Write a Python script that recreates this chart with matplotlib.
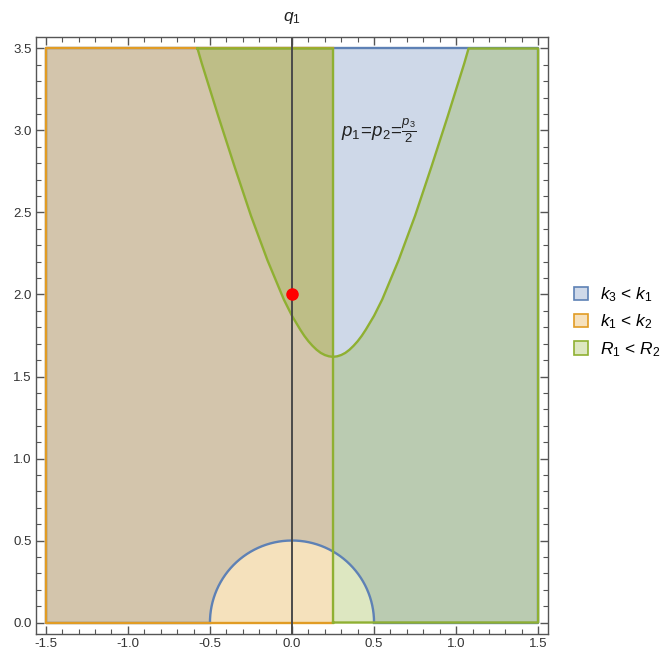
import numpy as np
import matplotlib
matplotlib.use('Agg')
import matplotlib.pyplot as plt
from matplotlib.patches import Patch, Polygon
from matplotlib.ticker import MultipleLocator, FormatStrFormatter

plt.rcParams['font.family'] = ['Liberation Sans', 'DejaVu Sans']
plt.rcParams['mathtext.fontset'] = 'custom'
plt.rcParams['mathtext.rm'] = 'Liberation Sans'
plt.rcParams['mathtext.it'] = 'Liberation Sans:italic'

# ---- data ----
x_min, x_max = -1.5, 1.5
y_min, y_max = 0.0, 3.5
split_x = 0.25          # vertical boundary
circle_r = 0.5          # semicircle radius (centred at origin)
curve_x = [-0.576, -0.55, -0.45, -0.35, -0.25, -0.15, -0.05, 0.0, 0.05, 0.075, 0.10, 0.125,
           0.15, 0.175, 0.20, 0.225,
           0.25,
           0.275, 0.30, 0.325, 0.35, 0.375, 0.40, 0.425, 0.45, 0.50, 0.55, 0.65, 0.75, 0.85,
           0.95, 1.05, 1.076]
curve_y = [3.50, 3.41, 3.09, 2.78, 2.48, 2.21, 1.97, 1.87, 1.786, 1.748, 1.715, 1.687,
           1.663, 1.644, 1.631, 1.623,
           1.620,
           1.623, 1.631, 1.644, 1.663, 1.687, 1.715, 1.748, 1.786, 1.87, 1.97, 2.21, 2.48, 2.78,
           3.09, 3.41, 3.50]
point_x, point_y = 0.0, 2.0
legend_labels = [r'$k_3$ < $k_1$', r'$k_1$ < $k_2$', r'$R_1$ < $R_2$']
x_ticks = [-1.5, -1.0, -0.5, 0.0, 0.5, 1.0, 1.5]
y_ticks = [0.0, 0.5, 1.0, 1.5, 2.0, 2.5, 3.0, 3.5]

blue = (0.368, 0.507, 0.710)
orange = (0.881, 0.611, 0.142)
green = (0.560, 0.692, 0.195)
alpha = 0.3
lw = 1.7

fig = plt.figure(figsize=(6.66, 6.51), dpi=100)
ax = fig.add_axes([36/666, 17/651, (548-36)/666, (634-37)/651])
pad_x = 0.02 * (x_max - x_min)
pad_y = 0.02 * (y_max - y_min)
ax.set_xlim(x_min - pad_x, x_max + pad_x)
ax.set_ylim(y_min - pad_y, y_max + pad_y)

# blue region: box outside the semicircle
xs = np.linspace(x_min, x_max, 1201)
lower = np.sqrt(np.clip(circle_r**2 - xs**2, 0, None))
ax.fill_between(xs, lower, y_max, color=blue, alpha=alpha, lw=0)

# orange region: left of split
ax.fill_between([x_min, split_x], y_min, y_max, color=orange, alpha=alpha, lw=0)

# green region
iv = curve_x.index(split_x)
left_pts = list(zip(curve_x[:iv + 1], curve_y[:iv + 1])) + [(split_x, y_max)]
right_curve = list(zip(curve_x[iv:], curve_y[iv:]))
right_pts = [(split_x, y_min), (x_max, y_min), (x_max, y_max)] + right_curve[::-1]
for pts in (left_pts, right_pts):
    ax.add_patch(Polygon(pts, closed=True, facecolor=green, alpha=alpha, lw=0))

# boundaries: blue
th = np.linspace(0, np.pi, 300)
ax.plot(circle_r*np.cos(th), circle_r*np.sin(th), color=blue, lw=lw)
ax.plot([-circle_r, x_min, x_min, x_max, x_max, circle_r],
        [y_min, y_min, y_max, y_max, y_min, y_min], color=blue, lw=lw)
# orange
ax.plot([split_x, x_min, x_min, split_x], [y_min, y_min, y_max, y_max], color=orange, lw=lw)
# green
for pts in (left_pts, right_pts):
    px, py = zip(*(pts + [pts[0]]))
    ax.plot(px, py, color=green, lw=lw, solid_joinstyle='round')

ax.axvline(0, color='#4a4a4a', lw=1.4)
ax.plot([point_x], [point_y], 'o', color='#ff0000', ms=8, zorder=5)

ax.text(0.3, 3.0, r'$p_1\!=\!p_2\!=\!\frac{p_3}{2}$', fontsize=13.5, color='#222222',
        ha='left', va='center')
ax.annotate(r'$q_1$', xy=(0, 1), xycoords=('data', 'axes fraction'),
            xytext=(0, 14), textcoords='offset points', ha='center', va='center',
            fontsize=12.5, color='#222222')

ax.set_xticks(x_ticks)
ax.set_yticks(y_ticks)
ax.xaxis.set_major_formatter(FormatStrFormatter('%.1f'))
ax.yaxis.set_major_formatter(FormatStrFormatter('%.1f'))
ax.xaxis.set_minor_locator(MultipleLocator(0.1))
ax.yaxis.set_minor_locator(MultipleLocator(0.1))
ax.tick_params(which='both', direction='in', top=True, right=True, color='#555555')
ax.tick_params(which='major', length=6, width=1, labelsize=9.5, labelcolor='#333333', pad=3)
ax.tick_params(which='minor', length=3.5, width=0.8)
for s in ax.spines.values():
    s.set_color('#555555')
    s.set_linewidth(1)

def mix(c):
    return tuple(1 - alpha + alpha*v for v in c)

handles = [Patch(facecolor=mix(c), edgecolor=c, linewidth=1.2) for c in (blue, orange, green)]
fig.legend(handles, legend_labels, loc='center left', bbox_to_anchor=(565/666, 1 - 322/651),
           frameon=False, fontsize=12.5, handlelength=0.8, handleheight=0.8,
           handletextpad=0.7, labelspacing=0.5, borderpad=0)

fig.savefig('out.png', dpi=100)
